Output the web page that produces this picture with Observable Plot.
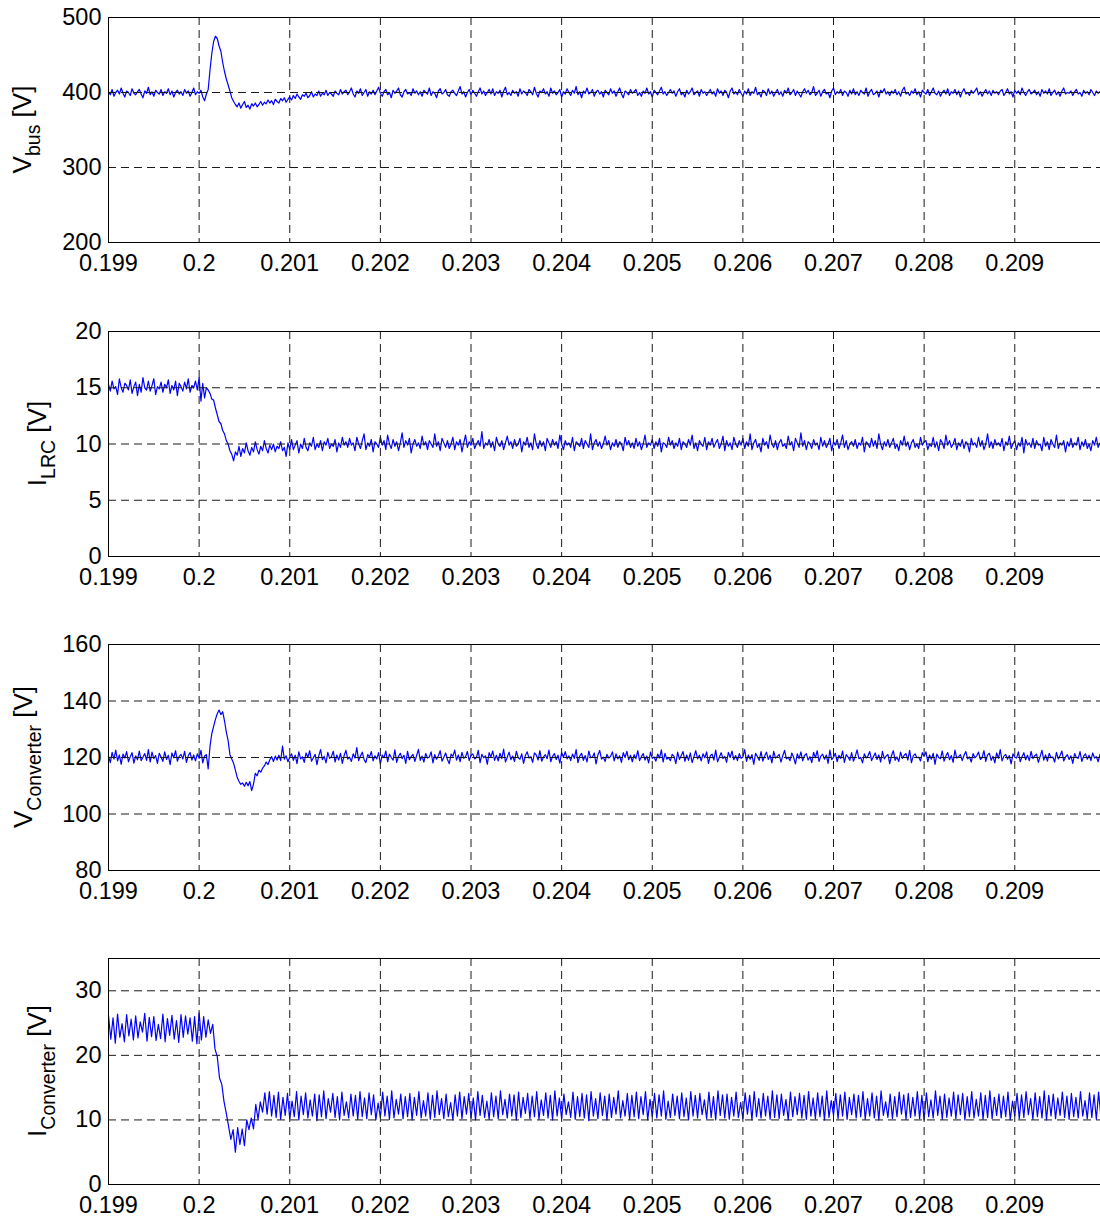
<!DOCTYPE html>
<html><head><meta charset="utf-8">
<script src="https://cdn.jsdelivr.net/npm/d3@7"></script>
<script src="https://cdn.jsdelivr.net/npm/@observablehq/plot@0.6"></script>
<style>
body{margin:0;background:#fff;width:1100px;height:1222px;overflow:hidden;}
#chart svg{display:block;}
</style></head><body><div id="chart"></div>
<script>
const xTicks = [0.199,0.2,0.201,0.202,0.203,0.204,0.205,0.206,0.207,0.208,0.209];
const xTickLabels = ["0.199","0.2","0.201","0.202","0.203","0.204","0.205","0.206","0.207","0.208","0.209"];
const T0 = 0.199;
const dtSlow = 0.00002;
const dtFast = 0.000025;

const vbusTicks = [200,300,400,500];
const ilrcTicks = [0,5,10,15,20];
const vconvTicks = [80,100,120,140,160];
const iconvTicks = [0,10,20,30];

const vbus = [
401,397,404,395,400,403,398,406,399,394,402,400,396,405,399,397,401,404,398,393,
402,399,407,397,401,395,403,400,398,404,396,401,399,405,397,402,394,400,403,398,
401,396,404,399,402,395,400,406,397,401,399,403,394,389,398,
404,430,452,468,475,472,462,455,440,428,418,410,402,393,388,384,
381,386,379,384,388,380,383,378,385,382,
386,381,384,388,383,387,385,390,386,389,384,391,388,386,392,389,393,387,391,394,
390,396,392,398,394,391,397,395,399,393,396,401,394,398,396,402,395,399,397,403,396,400,398,395,402,399,397,404,398,401,
403,397,401,406,398,394,402,399,405,396,400,404,395,401,398,403,397,402,407,399,
395,401,404,397,400,393,403,399,402,406,397,394,401,404,398,400,396,405,399,402,
397,401,395,403,400,398,406,396,401,399,393,402,405,398,400,404,397,395,401,403,
399,396,402,408,398,401,394,400,404,397,403,399,395,401,406,398,402,396,400,404,
398,405,396,401,399,403,394,402,407,397,400,396,403,399,401,395,405,398,402,400,
396,404,401,397,407,399,394,402,400,405,398,401,395,406,399,402,397,400,404,394,
401,398,405,400,396,403,399,408,397,401,393,402,399,406,398,400,404,395,401,403,
398,401,394,403,400,397,405,399,402,395,401,406,398,393,402,400,397,404,399,401,
404,396,400,395,402,399,406,398,401,394,403,400,397,402,407,398,401,396,400,404,
399,402,395,401,405,397,400,394,403,398,401,406,397,400,402,395,404,399,401,396,
400,404,398,401,395,405,399,402,396,403,400,393,402,406,398,401,397,404,399,395,
402,398,405,396,401,399,407,397,400,394,403,401,396,405,398,402,395,400,404,397,
401,395,403,399,406,397,400,404,396,402,398,394,401,405,399,403,397,400,408,396,
399,403,395,401,404,398,400,393,402,406,397,401,399,404,396,402,400,395,403,398,
405,397,401,396,403,400,398,406,395,401,404,397,399,402,394,403,400,405,398,401,
396,402,399,404,397,401,395,403,407,398,400,396,402,399,405,397,401,394,403,400,
398,404,396,401,406,399,397,402,395,400,403,398,405,396,401,399,404,397,402,394,
401,405,398,400,396,403,399,402,406,397,401,395,400,404,398,402,396,403,399,401,
397,402,404,396,400,405,398,401,394,403,399,402,397,406,400,396,401,404,398,400,
403,397,401,395,404,399,402,398,405,396,400,403,397,401,395,402,406,398,400,399,
402,396,401,404,398,400,395,403,399,401,397,404,400,396,402,399,401,398
];

const ilrc = [
15.3,14.7,15.6,14.9,15.1,14.4,15.8,15.0,14.6,15.4,15.2,14.8,15.7,14.5,15.1,15.5,14.3,15.3,14.6,15.9,
15.0,14.8,15.6,14.7,15.2,15.8,14.4,15.1,14.9,15.5,14.6,15.3,15.0,15.7,14.5,15.2,14.8,15.6,14.3,15.4,
15.1,14.7,15.5,14.9,15.8,14.6,15.2,15.0,15.6,14.8,
15.9,13.8,15.4,14.1,15.0,
14.8,14.5,14.0,13.9,13.2,12.6,12.0,11.8,11.2,10.9,10.3,10.0,9.4,9.1,8.5,9.3,
9.0,9.8,8.9,9.6,9.2,10.1,9.4,9.0,9.7,9.3,10.2,9.5,9.1,9.8,9.4,10.3,9.6,9.2,9.9,9.5,10.0,9.3,9.8,9.6,10.2,9.4,9.7,8.9,10.1,9.5,
10.4,9.5,9.9,10.3,9.2,10.0,9.6,10.5,9.7,9.4,10.1,9.8,10.6,9.5,10.0,9.7,10.3,9.4,10.2,9.9,10.5,9.6,10.0,9.8,10.4,9.3,10.1,9.7,10.6,9.9,
10.2,9.7,10.5,9.9,10.1,9.4,10.6,10.0,9.6,10.3,10.9,9.5,10.1,9.8,10.4,9.3,10.2,10.0,9.7,10.6,
9.9,10.3,9.5,10.8,10.0,9.6,10.4,9.8,10.2,9.4,10.1,11.0,9.7,10.3,9.9,10.5,9.2,10.0,10.4,9.8,
10.1,9.6,10.7,9.9,10.2,9.5,10.3,10.0,9.7,10.9,9.8,10.2,9.4,10.5,10.1,9.7,10.3,9.6,10.0,10.6,
9.5,10.2,9.9,10.4,9.3,10.1,10.8,9.7,10.2,9.9,10.5,9.6,10.0,10.3,9.8,11.1,9.6,10.1,9.9,10.4,
9.7,10.2,9.4,10.6,10.0,9.8,10.3,9.5,10.1,10.7,9.9,10.2,9.6,10.4,9.8,10.0,10.5,9.3,10.2,9.9,
10.6,9.7,10.1,9.5,10.9,10.0,9.6,10.3,9.8,10.2,9.4,10.5,10.1,9.7,10.4,9.9,10.2,9.6,10.8,10.0,
9.5,10.3,9.9,10.1,9.7,10.6,9.4,10.2,10.0,9.8,10.5,9.6,10.3,10.0,9.7,10.9,9.5,10.1,10.4,9.8,
10.2,9.6,10.0,10.7,9.9,10.3,9.5,10.1,9.8,10.4,9.7,10.2,10.0,9.4,10.6,9.9,10.3,9.7,10.1,9.6,
10.5,9.8,10.2,9.5,10.0,10.8,9.7,10.1,9.9,10.4,9.6,10.2,9.8,10.5,9.3,10.1,10.0,9.7,10.6,9.9,
10.3,9.6,10.1,9.8,10.5,9.5,10.2,10.0,9.7,10.4,9.9,10.8,9.6,10.1,9.4,10.3,10.0,9.8,10.6,9.5,
10.2,9.9,10.5,9.7,10.1,10.4,9.6,10.0,10.7,9.4,10.3,9.8,10.1,9.5,10.6,10.0,9.7,10.3,9.9,10.5,
9.6,10.2,9.8,10.9,9.5,10.1,10.4,9.7,10.0,9.3,10.5,9.9,10.2,9.6,10.8,10.0,9.7,10.3,9.5,10.1,
10.4,9.8,10.0,9.6,10.7,9.9,10.2,9.4,10.5,10.1,9.7,11.0,9.8,10.3,9.5,10.2,10.0,9.6,10.4,9.9,
10.1,9.5,10.6,9.8,10.3,9.7,10.0,10.5,9.4,10.2,9.9,10.4,9.6,10.1,10.8,9.7,10.3,9.5,10.0,10.2,
9.8,10.4,9.6,10.1,9.9,10.6,9.3,10.2,10.0,9.7,10.5,9.8,10.3,9.6,10.9,10.0,9.5,10.2,9.8,10.4,
9.7,10.1,10.5,9.6,10.0,9.4,10.3,9.9,10.7,9.8,10.2,9.5,10.1,10.4,9.7,10.0,9.6,10.6,9.9,10.2,
10.3,9.5,10.0,9.8,10.6,9.7,10.2,9.4,10.4,10.1,9.6,10.8,9.9,10.3,9.7,10.0,10.5,9.5,10.1,9.8,
10.4,9.6,10.2,10.0,9.3,10.5,9.9,10.1,9.7,10.6,9.8,10.3,9.5,10.0,10.9,9.7,10.2,9.6,10.4,9.9,
10.1,9.8,10.5,9.4,10.2,9.9,10.7,9.6,10.0,10.3,9.5,10.1,9.8,10.6,9.2,10.4,9.9,10.1,9.7,10.5,
9.6,10.3,9.9,10.0,9.4,10.6,9.8,10.2,9.5,10.4,10.0,9.7,10.8,9.6,10.1,9.9,10.3,9.3,10.2,9.8,
10.5,9.7,10.1,9.9,10.6,9.5,10.2,9.8,10.4,9.6,10.0,9.4,10.3,9.9,10.6,9.7,10.1,9.8
];

const vconv = [
120.5,118.2,121.8,119.4,122.6,118.8,120.9,117.6,121.2,119.8,122.1,118.5,120.3,121.7,118.0,120.6,119.2,122.3,118.9,120.1,
121.4,119.0,122.8,118.4,121.9,119.6,120.7,117.9,121.5,120.2,118.6,122.0,119.3,120.8,117.5,121.6,119.9,122.4,118.7,120.4,
121.1,119.5,122.2,118.3,120.6,121.8,119.1,120.9,118.8,121.3,119.7,122.5,118.1,120.5,121.0,
116.0,124.0,128.5,131.0,133.5,135.5,136.8,135.2,136.2,133.0,129.0,126.0,121.0,119.5,118.0,115.5,113.0,111.5,110.5,111.0,
109.8,111.2,110.0,111.5,108.3,110.6,114.4,113.5,115.5,114.8,116.2,117.0,118.4,117.5,119.2,120.3,118.6,120.5,119.1,120.8,
118.9,124.0,119.4,120.6,118.5,120.2,
121.3,119.0,120.8,117.8,122.0,119.5,120.2,118.3,121.6,120.0,122.4,118.7,119.9,121.1,117.5,120.6,122.8,119.2,120.4,118.1,
121.8,119.7,120.3,122.2,118.4,120.9,119.1,121.5,117.9,120.7,122.5,119.4,120.1,118.6,121.3,119.8,123.5,118.9,120.5,121.9,
119.3,118.2,121.0,120.2,122.1,118.8,120.6,119.5,121.7,117.7,120.9,119.9,122.3,118.5,121.2,120.0,119.1,122.7,118.3,120.4,
121.5,119.6,120.8,117.9,122.2,119.2,120.3,121.1,118.6,120.7,122.9,119.0,120.5,118.4,121.4,119.8,120.2,122.0,118.1,121.0,
119.4,120.6,122.4,118.7,120.1,121.6,119.3,117.8,121.2,120.4,122.6,119.1,120.9,118.5,121.8,119.7,120.3,122.1,118.9,120.7,
121.3,119.5,120.0,122.5,118.2,121.1,119.9,120.6,117.6,121.7,120.2,122.3,119.0,120.8,118.8,121.5,119.6,123.0,118.4,120.1,
121.9,119.2,120.5,118.6,122.2,120.0,119.4,121.3,117.9,120.7,122.0,119.8,120.3,118.3,121.6,120.9,119.1,122.4,118.7,120.2,
121.0,119.6,122.6,118.5,120.4,121.4,119.3,120.8,118.0,121.8,120.1,122.1,119.5,120.6,118.9,121.2,119.7,122.8,118.2,120.5,
121.5,119.0,120.7,118.4,122.3,119.9,120.2,121.6,117.7,120.9,122.5,119.4,120.1,118.6,121.1,119.8,120.4,122.0,118.8,121.3,
119.5,120.6,118.3,121.7,120.0,122.2,119.2,120.8,118.5,121.0,119.6,122.4,118.9,120.3,121.4,119.1,120.5,118.1,121.9,119.7,
120.2,118.7,121.2,119.8,122.7,118.4,121.5,119.4,120.0,118.9,121.1,120.4,117.8,121.9,119.3,120.7,122.1,118.6,120.9,119.0,
121.6,118.2,120.3,122.4,119.5,120.8,118.8,121.3,119.9,122.0,117.9,120.6,121.2,119.1,122.6,118.5,120.1,121.7,119.6,120.4,
118.3,121.8,120.0,122.3,119.2,120.7,118.9,121.4,119.7,120.2,122.8,118.6,120.9,119.4,121.0,117.6,121.5,120.3,119.0,122.1,
118.7,120.5,121.9,119.3,120.8,118.1,122.2,119.8,120.4,121.1,118.4,120.6,122.5,119.5,120.1,118.9,121.6,120.0,117.7,121.3,
119.6,122.0,118.8,120.7,121.4,119.1,120.3,118.2,121.8,119.9,122.4,118.6,120.5,121.2,119.4,120.9,117.9,122.6,119.2,120.1,
121.5,118.5,120.8,119.7,122.3,118.3,121.0,120.2,119.0,121.7,118.7,120.4,122.7,119.6,120.0,118.1,121.3,119.8,120.6,122.1,
118.9,120.3,121.6,119.3,120.9,118.4,122.2,119.5,120.5,121.1,117.8,120.7,122.4,119.0,120.2,118.6,121.9,119.7,120.8,121.4,
119.1,122.5,118.2,120.6,121.3,119.9,120.1,118.8,121.7,120.4,122.0,118.5,120.9,119.4,121.5,117.6,121.2,120.0,119.6,122.3,
118.7,120.5,121.8,119.2,120.7,118.3,122.6,119.8,120.3,121.0,118.9,120.8,122.1,119.5,120.2,118.4,121.4,119.9,120.6,121.9,
119.3,120.0,122.4,118.6,120.9,121.5,119.0,120.4,118.1,121.6,119.7,122.8,118.8,120.5,121.1,119.4,120.7,117.7,121.3,120.1,
119.8,122.0,118.5,120.3,121.7,119.2,120.8,118.9,122.2,119.6,120.6,121.2,118.3,120.4,122.5,119.1,120.9,118.7,121.5,119.9,
120.2,118.4,121.8,119.5,120.7,122.3,118.8,120.1,121.0,119.3,120.6,117.9,121.4,120.0,119.7,122.1,118.6,120.5,121.3,119.4,
120.8,118.9,121.6,119.8,120.3,118.5,121.1,120.0
];

const iconv = [
26.2,22.5,25.8,21.9,26.4,22.8,24.9,22.1,26.3,23.0,25.6,22.4,26.1,22.7,25.2,23.6,26.5,22.2,25.9,22.9,
26.0,22.3,24.8,22.6,26.4,22.1,25.7,23.1,26.2,22.5,25.4,22.0,26.3,22.8,26.1,23.3,25.8,22.2,26.0,21.8,
26.6,22.4,26.0,22.8,25.5,
23.4,24.8,21.0,19.8,16.5,15.5,12.8,11.0,9.0,7.0,8.5,5.0,8.8,6.2,8.6,6.0,10.0,8.5,10.3,8.6,12.4,10.1,12.8,11.2,14.2,10.9,14.4,10.6,
13.8,10.4,14.3,10.1,13.5,10.7,14.1,10.2,12.9,10.5,14.4,10.0,13.7,10.8,14.2,10.3,13.1,10.6,14.0,9.9,
13.9,10.5,14.5,10.2,13.3,11.2,14.1,10.4,13.6,10.0,14.3,10.7,12.8,10.3,14.0,10.6,13.8,10.1,14.4,10.5,
13.4,10.2,14.2,10.8,13.9,10.0,12.6,10.4,14.3,10.6,13.7,10.1,14.5,10.3,13.2,10.9,14.0,10.2,13.6,10.5,
14.1,10.0,13.5,10.7,14.4,10.3,13.0,10.6,14.2,10.1,13.8,10.4,14.5,10.8,13.3,10.2,14.0,10.5,12.7,10.0,
13.9,10.6,14.3,10.2,13.6,10.9,14.1,10.3,13.4,10.0,14.4,10.7,13.8,10.4,12.9,10.1,14.2,10.5,13.7,10.2,
14.5,10.8,13.2,10.3,14.0,10.6,13.9,10.0,14.3,10.4,13.5,11.0,14.1,10.2,13.7,10.5,14.4,10.1,13.1,10.7,
14.2,10.3,13.8,10.0,14.5,10.6,13.4,10.2,14.0,10.8,12.8,10.4,14.3,10.1,13.6,10.5,14.1,10.3,13.9,9.9,
14.4,10.6,13.3,10.2,14.2,10.7,13.7,10.0,14.0,10.4,13.5,10.9,14.5,10.3,13.0,10.6,14.1,10.1,13.8,10.5,
14.3,10.2,13.6,10.8,14.4,10.0,13.2,10.5,14.1,10.3,13.9,10.6,14.5,10.1,12.9,10.4,14.0,10.7,13.7,10.2,
14.2,10.5,13.4,10.0,14.4,10.6,13.8,10.3,14.1,10.8,13.1,10.2,14.3,10.4,13.6,10.0,14.5,10.7,13.9,10.3,
14.0,10.1,13.5,10.6,14.3,10.4,12.7,10.2,14.2,10.9,13.8,10.0,14.4,10.5,13.3,10.3,14.1,10.6,13.7,10.1,
14.5,10.4,13.9,10.2,14.0,10.7,13.2,10.0,14.3,10.5,13.6,10.8,14.1,10.3,13.8,10.1,14.4,10.6,13.4,10.2,
14.2,10.5,13.7,10.0,14.5,10.4,13.0,10.7,14.1,10.2,13.9,10.6,14.3,10.1,13.5,10.8,14.0,10.3,13.8,10.5,
14.4,10.1,13.3,10.6,14.2,10.3,13.7,10.0,14.5,10.7,12.8,10.4,14.0,10.2,13.6,10.5,14.3,10.9,13.9,10.1,
14.1,10.4,13.5,10.6,14.4,10.2,13.8,10.0,14.2,10.5,13.1,10.3,14.5,10.7,13.7,10.1,14.0,10.4,13.4,10.6,
14.3,10.2,13.9,10.8,14.1,10.0,13.6,10.5,14.4,10.3,13.2,10.6,14.2,10.1,13.8,10.4,14.5,10.2,13.5,10.7,
14.0,10.3,13.7,10.5,14.3,10.0,12.9,10.6,14.1,10.2,13.9,10.4,14.4,10.8,13.3,10.1,14.2,10.5,13.6,10.3,
14.5,10.0,13.8,10.6,14.0,10.2,13.4,10.7,14.3,10.4,13.7,10.1,14.1,10.5,13.5,10.3,14.4,10.6,13.0,10.2,
14.2,10.4,13.9,10.1,14.3,10.5,13.6
];

const FONT = "'Liberation Sans', Arial, Helvetica, sans-serif";

const panels = [
  {values: vbus, dt: dtSlow, yDomain: [200,500], yTicks: vbusTicks, main: "V", sub: "bus", labelX: 31, height: 314, mt: 17, plotH: 225},
  {values: ilrc, dt: dtSlow, yDomain: [0,20], yTicks: ilrcTicks, main: "I", sub: "LRC", labelX: 46, height: 313, mt: 17, plotH: 225},
  {values: vconv, dt: dtSlow, yDomain: [80,160], yTicks: vconvTicks, main: "V", sub: "Converter", labelX: 32, height: 314, mt: 17, plotH: 226},
  {values: iconv, dt: dtFast, yDomain: [0,35], yTicks: iconvTicks, main: "I", sub: "Converter", labelX: 46, height: 281, mt: 17, plotH: 226}
];

const root = document.getElementById("chart");
for (const p of panels) {
  const data = p.values.map((v, i) => ({t: T0 + i * p.dt, v}));
  const [y0, y1] = p.yDomain;
  const gridY = p.yTicks.filter(d => d > y0 && d < y1);
  const svg = Plot.plot({
    width: 1100,
    height: p.height,
    marginLeft: 108,
    marginRight: 0,
    marginTop: p.mt,
    marginBottom: p.height - p.mt - p.plotH,
    style: {fontFamily: FONT, fontSize: "23.5px", color: "#000", background: "#fff"},
    x: {domain: [0.199, 0.209946]},
    y: {domain: p.yDomain},
    marks: [
      Plot.line(data, {x: "t", y: "v", stroke: "#0000ff", strokeWidth: 1.2}),
      Plot.ruleX(xTicks.slice(1), {stroke: "#1a1a1a", strokeDasharray: "8,5"}),
      Plot.ruleY(gridY, {stroke: "#1a1a1a", strokeDasharray: "8,5"}),
      Plot.ruleY([y1], {stroke: "#000"}),
      Plot.ruleY([y0], {stroke: "#000"}),
      Plot.ruleX([0.199], {stroke: "#000"}),
      Plot.axisX({ticks: xTicks, tickSize: 0, tickPadding: 12, fontSize: 23.5, tickFormat: d => xTickLabels[xTicks.indexOf(d)], label: null}),
      Plot.axisY({ticks: p.yTicks, tickSize: 0, tickPadding: 7, fontSize: 23.5, label: null})
    ]
  });
  const cy = p.mt + p.plotH / 2;
  const t = d3.select(svg).append("text")
    .attr("transform", `translate(${p.labelX},${cy}) rotate(-90)`)
    .attr("text-anchor", "middle")
    .attr("fill", "#000")
    .style("font-family", FONT)
    .style("font-size", "26px")
    .style("white-space", "pre");
  t.append("tspan").text(p.main);
  t.append("tspan").attr("dy", 9).style("font-size", "19.5px").text(p.sub);
  t.append("tspan").attr("dy", -9).text(" [V]");
  root.appendChild(svg);
}
</script>
</body></html>
